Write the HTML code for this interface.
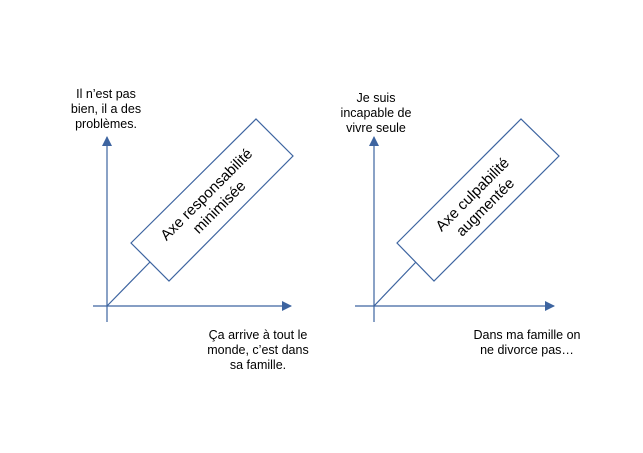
<!DOCTYPE html>
<html><head><meta charset="utf-8"><style>
html,body{margin:0;padding:0;background:#fff;}
svg{display:block;}
text{font-family:"Liberation Sans",sans-serif;fill:#000;}
</style></head><body>
<svg width="643" height="453" viewBox="0 0 643 453" xmlns="http://www.w3.org/2000/svg">
<defs>
<marker id="a" viewBox="0 0 10 10" refX="9" refY="5" markerWidth="10" markerHeight="10" markerUnits="userSpaceOnUse" orient="auto">
<path d="M0,0 L10,5 L0,10 z" fill="#3d64a0"/></marker>
</defs>
<g stroke="#3d64a0" stroke-width="1.2" fill="none">
<line x1="107" y1="322" x2="107" y2="137" marker-end="url(#a)"/>
<line x1="93" y1="306" x2="291" y2="306" marker-end="url(#a)"/>
<line x1="107" y1="306" x2="150" y2="262"/>
<polygon points="131,243 256,119 293,156 169,281" fill="#fff"/>
<line x1="374" y1="322" x2="374" y2="137" marker-end="url(#a)"/>
<line x1="355" y1="306" x2="554" y2="306" marker-end="url(#a)"/>
<line x1="374" y1="306" x2="416" y2="262"/>
<polygon points="397,243 521,119 559,156 434,281" fill="#fff"/>
</g>
<g font-size="12.5" text-anchor="middle">
<text x="106" y="98">Il n’est pas</text>
<text x="106" y="113">bien, il a des</text>
<text x="106" y="128">problèmes.</text>
<text x="258" y="339">Ça arrive à tout le</text>
<text x="258" y="354">monde, c’est dans</text>
<text x="258" y="369">sa famille.</text>
<text x="376" y="102">Je suis</text>
<text x="376" y="117">incapable de</text>
<text x="376" y="132">vivre seule</text>
<text x="527" y="339">Dans ma famille on</text>
<text x="527" y="354">ne divorce pas…</text>
</g>
<g font-size="15" text-anchor="middle">
<g transform="translate(212,200) rotate(-45)">
<text x="0" y="-3">Axe responsabilité</text>
<text x="0" y="15">minimisée</text>
</g>
<g transform="translate(478,200) rotate(-45)">
<text x="0" y="-3">Axe culpabilité</text>
<text x="0" y="15">augmentée</text>
</g>
</g>
</svg>
</body></html>
